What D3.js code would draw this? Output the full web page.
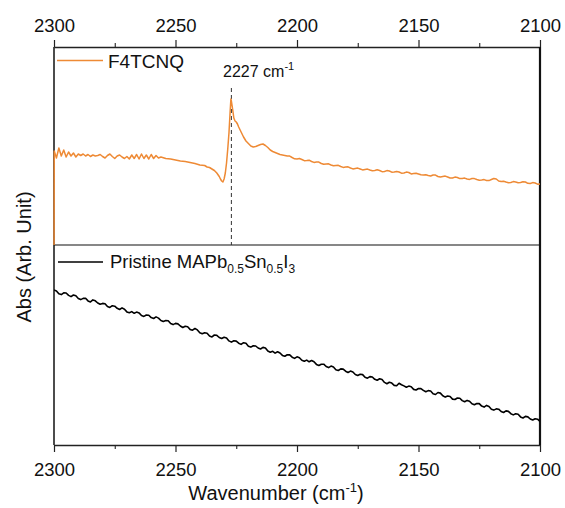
<!DOCTYPE html>
<html><head><meta charset="utf-8">
<script src="https://cdn.jsdelivr.net/npm/d3@7"></script>
<style>body{margin:0;background:#fff} svg{display:block;font-family:"Liberation Sans",Arial,sans-serif}</style>
</head><body><svg id="c" width="565" height="508"></svg>
<script>
// ---- data ----
const xDomain = [2300, 2100];
const majorTicks = [2300, 2250, 2200, 2150, 2100];
const minorTicks = [2275, 2225, 2175, 2125];
const peakWn = 2227;
const peakLabel = "2227 cm";
const seriesNames = ["F4TCNQ", "Pristine MAPb0.5Sn0.5I3"];
// F4TCNQ absorbance (arb. units) [wavenumber, value]
const f4tcnq = [
 [2300,-20],[2299.9,94],[2299,87],[2298,97],[2297,89],[2296,95],[2295,88],[2294,93],[2293,89],[2292,92],[2291,88],
 [2290,91],[2289,89.5],[2288,91],[2287,89],[2286,90.5],[2285,88.5],[2284,90],[2283,89],[2282,89.5],[2281,90.5],[2280,88.5],
 [2279,87],[2278,89.5],[2277,91],[2276,88.5],[2275,86.5],[2274,89],[2273,90],[2272,88],[2271,86.5],[2270,88.5],[2269,86],[2268,90],[2267,86.5],[2266,90.5],[2265,86],
 [2264,91],[2263,86.5],[2262,90],[2261,86],[2260,90.5],[2259,86.5],[2258,89.5],[2257,87],[2256,88],[2254,86.5],
 [2252,86],[2250,85],[2248,84],[2246,83.5],[2244,82.5],[2242,81.5],[2240,80],[2238,79.5],[2237,78],[2236,77.5],
 [2235,76],[2234,74.5],[2233,72],[2232,68.5],[2231.5,66],[2231,64],[2230.5,63],[2230,66],[2229.5,72],[2229,82],
 [2228.5,96],[2228,112],[2227.5,134],[2227.2,146],[2227,144],[2226.5,136],[2226,127],[2225.5,124],[2225,123],
 [2224.5,121],[2224,118],[2223,113],[2222,108],[2221,104],[2220,101.5],[2219,99],[2218,98],[2217,98.5],[2216,99.5],
 [2215,100.5],[2214,101],[2213,99.5],[2212,97.5],[2211,95],[2210,93.5],[2209,92.5],[2208,91.5],[2207,90.5],[2206,90],
 [2205,89.5],[2204,89],[2203,88.9],[2202,87.5],[2201,86.2],[2200,86],[2199,86.5],[2198,85.5],[2197,84.3],[2196,84.5],
 [2195,84.8],[2194,83.5],[2193,82.6],[2192,83],[2191,82.9],[2190,81.5],[2189,80.7],[2188,81],[2187,81.2],
 [2186,80],[2185,79.2],[2184,79.5],[2183,79.7],[2182,78.5],[2181,77.6],[2180,78],[2179,78.2],[2178,77],[2177,76.1],
 [2176,76.5],[2175,76.9],[2174,76],[2173,75.1],[2172,75.5],[2171,75.9],[2170,75],[2169,74.2],[2168,74.5],[2167,75.2],
 [2166,74.5],[2165,73.3],[2164,73.5],[2163,74.4],[2162,74],[2161,72.8],[2160,73],[2159,73.6],[2158,73],[2157,71.8],
 [2156,72],[2155,72.9],[2154,72.5],[2153,71.1],[2152,71.5],[2151,71.8],[2150,71],[2149,70.2],[2148,70],[2147,70.3],
 [2146,69.5],[2145,69.0],[2144,70],[2143,69.9],[2142,68.5],[2141,68.0],[2140,68.5],[2139,68.9],[2138,68],[2137,67.0],
 [2136,67],[2135,67.9],[2134,67.5],[2133,66.4],[2132,66.5],[2131,66.9],[2130,66],[2129,65.6],[2128,66.5],[2127,66.4],
 [2126,65.5],[2125,64.7],[2124,65],[2123,65.4],[2122,64.5],[2121,64.4],[2120,65.5],[2119,66.5],[2118,66],[2117,64.0],
 [2116,63.5],[2115,63.8],[2114,63],[2113,62.3],[2112,62.5],[2111,63.4],[2110,63],[2109,62.2],[2108,62.5],[2107,63.3],
 [2106,63],[2105,61.7],[2104,61.5],[2103,62.4],[2102,62],[2101,60.8],[2100,61]
];
// Pristine MAPb0.5Sn0.5I3 absorbance (arb. units) [wavenumber, value]
const pristine = [
 [2300,155],[2299,154.1],[2298,151.2],[2297,150.4],[2296,152.2],[2295,152.0],[2294,149.6],[2293,148.4],[2292,150.0],
 [2291,149.2],[2290,146.5],[2289,145.4],[2288,146.6],[2287,146.7],[2286,144.1],[2285,143.1],[2284,145.1],[2283,144.2],
 [2282,142.0],[2281,140.8],[2280,141.6],[2279,141.3],[2278,138.5],[2277,137.6],[2276,139.3],[2275,138.8],[2274,136.7],
 [2273,135.5],[2272,137.1],[2271,135.8],[2270,133.1],[2269,132.2],[2268,133.4],[2267,131.7],[2266,132.9],[2265,132.1],
 [2264,129.5],[2263,128.6],[2262,130.0],[2261,129.8],[2260,127.4],[2259,126.5],[2258,128.1],[2257,126.9],[2256,124.5],
 [2255,123.5],[2254,124.4],[2253,124.3],[2252,121.5],[2251,120.4],[2250,121.6],[2249,121.1],[2248,119.0],[2247,117.5],
 [2246,118.7],[2245,118.2],[2244,115.6],[2243,114.8],[2242,116.5],[2241,115.1],[2240,112.3],[2239,111.2],[2238,112.2],
 [2237,111.8],[2236,109.0],[2235,108.1],[2234,110.0],[2233,109.7],[2232,107.5],[2231,106.5],[2230,107.8],[2229,107.0],
 [2228,104.1],[2227,102.9],[2226,104.3],[2225,103.9],[2224,101.8],[2223,100.6],[2222,102.3],[2221,101.7],[2220,98.8],
 [2219,97.9],[2218,99.3],[2217,99.0],[2216,97.0],[2215,96.0],[2214,97.6],[2213,97.0],[2212,93.9],[2211,92.8],
 [2210,93.7],[2209,91.9],[2208,93.3],[2207,92.0],[2206,89.6],[2205,88.8],[2204,90.3],[2203,90.1],[2202,87.8],
 [2201,86.6],[2200,88.2],[2199,87.3],[2198,84.7],[2197,83.7],[2196,84.9],[2195,83.2],[2194,84.5],[2193,83.2],
 [2192,80.6],[2191,79.5],[2190,80.8],[2189,80.8],[2188,78.5],[2187,77.4],[2186,78.9],[2185,78.0],[2184,75.3],
 [2183,74.5],[2182,76.1],[2181,75.9],[2180,73.8],[2179,72.5],[2178,73.9],[2177,73.0],[2176,70.5],[2175,69.5],
 [2174,70.7],[2173,70.4],[2172,67.7],[2171,66.8],[2170,68.4],[2169,68.0],[2168,65.7],[2167,64.8],[2166,66.2],
 [2165,65.4],[2164,62.6],[2163,61.3],[2162,62.7],[2161,61.9],[2160,59.6],[2159,59.2],[2158,61.8],[2157,60.3],
 [2156,59.1],[2155,57.7],[2154,58.9],[2153,58.2],[2152,55.6],[2151,55.0],[2150,56.5],[2149,56.4],[2148,54.6],
 [2147,53.2],[2146,54.4],[2145,54.0],[2144,51.3],[2143,50.5],[2142,52.5],[2141,51.9],[2140,49.2],[2139,47.9],
 [2138,49.0],[2137,48.5],[2136,45.9],[2135,45.5],[2134,47.0],[2133,46.8],[2132,44.4],[2131,43.2],[2130,44.6],
 [2129,43.8],[2128,41.2],[2127,40.2],[2126,41.5],[2125,41.4],[2124,38.9],[2123,37.9],[2122,39.6],[2121,38.5],
 [2120,35.8],[2119,34.9],[2118,36.1],[2117,35.8],[2116,33.5],[2115,32.5],[2114,34.1],[2113,33.6],[2112,31.3],
 [2111,30.1],[2110,31.3],[2109,30.8],[2108,28.1],[2107,27.0],[2106,28.6],[2105,28.1],[2104,26.0],[2103,25.0],
 [2102,26.3],[2101,25.8],[2100,23.5]
];

// ---- layout ----
const L = 54, R = 540, T = 47, M = 245, B = 445;
const orange = "#EE8A35";
const svg = d3.select("#c");

const x = d3.scaleLinear().domain(xDomain).range([L, R]);
const yTop = d3.scaleLinear().domain([0, M - T]).range([M, T]);
const yBot = d3.scaleLinear().domain([0, B - M]).range([B, M]);

const defs = svg.append("defs");
defs.append("clipPath").attr("id", "clipTop")
  .append("rect").attr("x", L - 1).attr("y", T).attr("width", R - L + 1).attr("height", M - T);
defs.append("clipPath").attr("id", "clipBot")
  .append("rect").attr("x", L).attr("y", M).attr("width", R - L).attr("height", B - M);

// axes with major + minor ticks
function drawAxis(orient, yPos, pad) {
  const major = (orient === "top" ? d3.axisTop(x) : d3.axisBottom(x))
    .tickValues(majorTicks).tickFormat(d3.format("d")).tickSize(7).tickPadding(pad).tickSizeOuter(0);
  const g = svg.append("g").attr("transform", `translate(0,${yPos})`).call(major);
  g.selectAll("text").attr("font-size", 18.5).attr("fill", "#111").attr("font-family", '"Liberation Sans",Arial,sans-serif');
  g.select(".domain").attr("stroke", "#222").attr("stroke-width", 1.3);
  g.selectAll(".tick line").attr("stroke", "#222").attr("stroke-width", 1.2);
  const minor = (orient === "top" ? d3.axisTop(x) : d3.axisBottom(x))
    .tickValues(minorTicks).tickFormat("").tickSize(4).tickSizeOuter(0);
  const g2 = svg.append("g").attr("transform", `translate(0,${yPos})`).call(minor);
  g2.select(".domain").remove();
  g2.selectAll(".tick line").attr("stroke", "#222").attr("stroke-width", 1.1);
}
drawAxis("top", T, 8);
drawAxis("bottom", B, 11);

// frame: left, right, divider
svg.append("line").attr("x1", x(xDomain[0])).attr("x2", x(xDomain[0])).attr("y1", T).attr("y2", B)
  .attr("stroke", "#111").attr("stroke-width", 1.5);
svg.append("line").attr("x1", x(xDomain[1])).attr("x2", x(xDomain[1])).attr("y1", T).attr("y2", B)
  .attr("stroke", "#111").attr("stroke-width", 2.2);
svg.append("line").attr("x1", L).attr("x2", R).attr("y1", M).attr("y2", M)
  .attr("stroke", "#111").attr("stroke-width", 1.2);

// dashed marker
svg.append("line").attr("x1", x(peakWn)).attr("x2", x(peakWn)).attr("y1", 88).attr("y2", M)
  .attr("stroke", "#333").attr("stroke-width", 1).attr("stroke-dasharray", "4,3");

// series lines
const lineTop = d3.line().x(d => x(d[0])).y(d => yTop(d[1]));
const lineBot = d3.line().x(d => x(d[0])).y(d => yBot(d[1]));
svg.append("path").datum(f4tcnq).attr("d", lineTop).attr("fill", "none")
  .attr("stroke", orange).attr("stroke-width", 1.5).attr("stroke-linejoin", "round").attr("clip-path", "url(#clipTop)");
svg.append("path").datum(pristine).attr("d", lineBot).attr("fill", "none")
  .attr("stroke", "#000").attr("stroke-width", 1.6).attr("stroke-linejoin", "round").attr("clip-path", "url(#clipBot)");

// legends
svg.append("line").attr("x1", 57).attr("x2", 103).attr("y1", 60.5).attr("y2", 60.5)
  .attr("stroke", orange).attr("stroke-width", 1.6);
svg.append("text").attr("x", 108).attr("y", 68).attr("font-size", 19).attr("fill", "#111").text(seriesNames[0]);

svg.append("line").attr("x1", 58).attr("x2", 103).attr("y1", 262).attr("y2", 262)
  .attr("stroke", "#000").attr("stroke-width", 1.6);
const lt = svg.append("text").attr("x", 110).attr("y", 268).attr("font-size", 18.5).attr("fill", "#111");
lt.append("tspan").text("Pristine MAPb");
lt.append("tspan").attr("font-size", 12).attr("dy", 5).text("0.5");
lt.append("tspan").attr("dy", -5).text("Sn");
lt.append("tspan").attr("font-size", 12).attr("dy", 5).text("0.5");
lt.append("tspan").attr("dy", -5).text("I");
lt.append("tspan").attr("font-size", 12).attr("dy", 5).text("3");

// peak label
const pl = svg.append("text").attr("x", 223).attr("y", 77).attr("font-size", 16).attr("fill", "#111");
pl.append("tspan").text(peakLabel);
pl.append("tspan").attr("font-size", 11).attr("dy", -7).text("-1");

// axis titles
const xt = svg.append("text").attr("x", 276).attr("y", 500).attr("text-anchor", "middle")
  .attr("font-size", 20).attr("fill", "#111");
xt.append("tspan").text("Wavenumber (cm");
xt.append("tspan").attr("font-size", 13).attr("dy", -8).text("-1");
xt.append("tspan").attr("dy", 8).text(")");

svg.append("text").attr("transform", "translate(31,257) rotate(-90)").attr("text-anchor", "middle")
  .attr("font-size", 20).attr("fill", "#111").text("Abs (Arb. Unit)");
</script></body></html>
